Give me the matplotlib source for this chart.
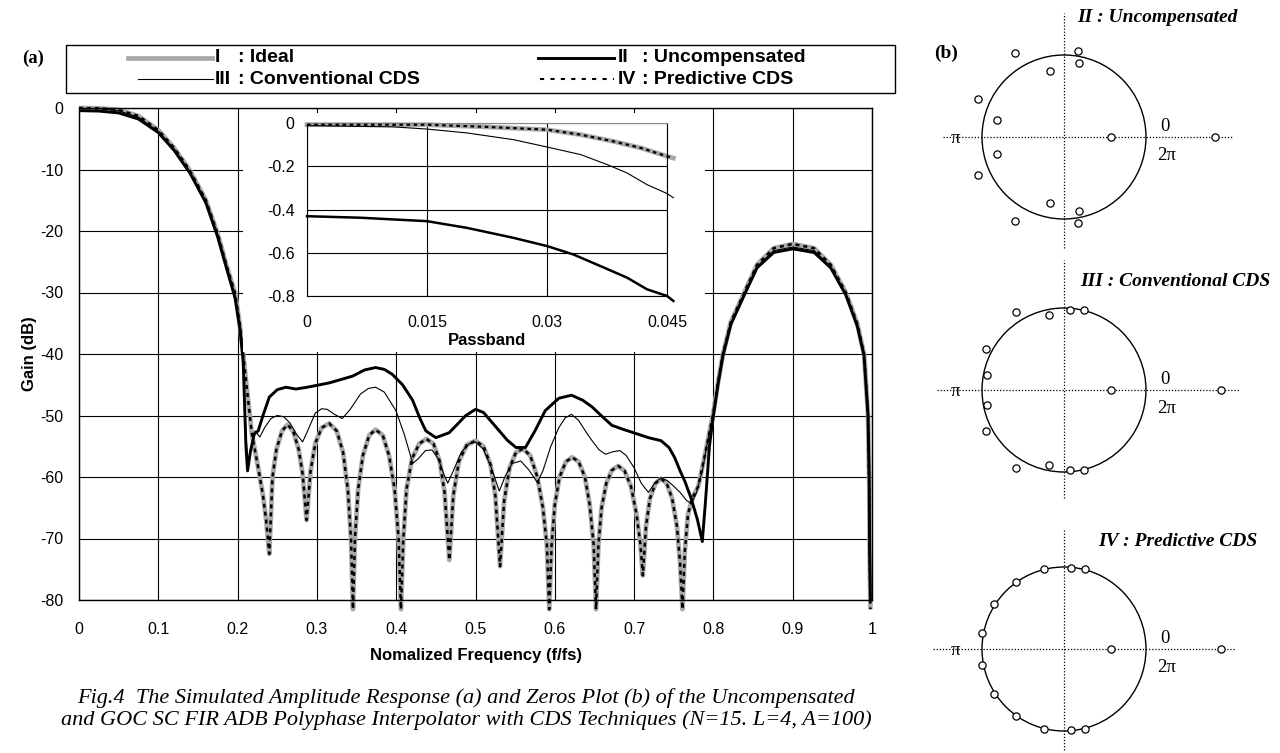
import numpy as np
import matplotlib
matplotlib.use("Agg")
import matplotlib.pyplot as plt
from matplotlib.patches import Rectangle, Circle
from matplotlib.lines import Line2D

plt.rcParams["axes.unicode_minus"] = False

# ---------------- data ----------------
ideal_x = [0, 0.025, 0.05, 0.075, 0.1, 0.12, 0.14, 0.16, 0.175, 0.186, 0.197, 0.203, 0.207, 0.212, 0.218, 0.226, 0.232, 0.236, 0.240,
           0.244, 0.249, 0.256, 0.263, 0.27, 0.277, 0.282, 0.287,
           0.292, 0.298, 0.306, 0.3155, 0.325, 0.333, 0.339, 0.343, 0.3455,
           0.348, 0.352, 0.358, 0.366, 0.374, 0.383, 0.391, 0.398, 0.403, 0.406,
           0.409, 0.413, 0.42, 0.429, 0.438, 0.447, 0.455, 0.461, 0.467,
           0.472, 0.479, 0.489, 0.5, 0.51, 0.519, 0.525, 0.531,
           0.536, 0.543, 0.551, 0.56, 0.569, 0.578, 0.585, 0.59, 0.593,
           0.596, 0.6, 0.606, 0.614, 0.622, 0.63, 0.638, 0.644, 0.649, 0.652,
           0.655, 0.659, 0.665, 0.672, 0.68, 0.688, 0.696, 0.703, 0.708, 0.711,
           0.715, 0.72, 0.727, 0.734, 0.741, 0.748, 0.754, 0.758, 0.761,
           0.764, 0.768, 0.774, 0.781, 0.79, 0.8, 0.806, 0.812, 0.822, 0.839, 0.855, 0.876, 0.9,
           0.927, 0.948, 0.967, 0.9815, 0.99, 0.995, 0.9965, 0.997, 0.998]
ideal_gain = [0, -0.05, -0.3, -1.3, -3.6, -6.5, -10.2, -15.0, -20.5, -25.6, -30.2, -35.4, -40, -46, -53, -58.5, -63, -67, -72.5,
              -60, -55.5, -52.5, -51.5, -52.5, -55.5, -59.5, -67,
              -59, -54.5, -52, -51.3, -52.5, -56, -62, -70, -81.5,
              -70, -62, -56.5, -53.2, -52.3, -53.2, -56.5, -62, -70, -81.5,
              -70, -62, -57, -54.6, -53.8, -54.6, -57.5, -62.5, -73.5,
              -63, -57.5, -54.8, -54.1, -55, -58, -63, -74.5,
              -64, -58.5, -56, -55.4, -56.5, -60, -65, -71, -81.5,
              -71, -64.5, -60, -57.5, -56.8, -57.5, -60, -64.5, -71, -81.5,
              -71, -65, -61, -58.9, -58.2, -59, -61.5, -66, -71, -76,
              -68, -63.5, -61, -60.3, -61, -63.5, -68, -74, -81.5,
              -72, -66, -63.3, -61.5, -56, -49.5, -44.5, -40, -34.8, -30, -25.5, -22.8, -22.1,
              -22.8, -25.5, -30, -35.1, -40, -50, -61, -72, -81.5]

predictive_x = list(ideal_x)
predictive_gain = list(ideal_gain)

uncomp_x = [0, 0.025, 0.05, 0.075, 0.1, 0.12, 0.14, 0.16, 0.175, 0.186, 0.197, 0.203, 0.207, 0.2105, 0.2126, 0.216, 0.221, 0.226,
            0.232, 0.24, 0.25, 0.261, 0.2735, 0.288, 0.3155, 0.345, 0.36, 0.374, 0.385, 0.395, 0.408, 0.4206, 0.43, 0.4374,
            0.45, 0.4668, 0.4878, 0.5, 0.51, 0.526, 0.54, 0.551, 0.563, 0.575, 0.588, 0.605, 0.621, 0.635, 0.647, 0.66,
            0.672, 0.685, 0.697, 0.718, 0.734, 0.744, 0.751, 0.758, 0.764, 0.772, 0.78, 0.786, 0.79, 0.795, 0.8, 0.806,
            0.812, 0.822, 0.839, 0.855, 0.876, 0.9, 0.927, 0.948, 0.967, 0.9815, 0.99, 0.995, 0.9965, 0.997, 0.998]
uncomp_gain = [-0.43, -0.5, -0.8, -1.8, -4.0, -6.9, -10.6, -15.4, -21, -26, -31, -36, -41, -55, -59, -56, -53, -52.5,
               -50, -47, -45.8, -45.4, -45.7, -45.4, -44.7, -43.6, -42.6, -42.2, -42.5, -43.3, -45, -47.5, -50.5, -52.5,
               -53.6, -52.8, -50, -49, -49.5, -51.9, -54, -55.2, -55.2, -52.5, -49.2, -47.2, -46.7, -47.5, -48.6, -50.2,
               -51.6, -52.2, -52.7, -53.6, -54.1, -55.2, -56.8, -59, -60.7, -63.5, -67, -70.5, -64, -55, -50, -44.8,
               -40.3, -35.2, -30.4, -26, -23.5, -22.9, -23.5, -26, -30.4, -35.5, -40.3, -50, -61, -72, -80]

conv_x = [0, 0.025, 0.05, 0.075, 0.1, 0.12, 0.14, 0.16, 0.175, 0.186, 0.197, 0.203, 0.207, 0.2105, 0.213, 0.217, 0.222, 0.228,
          0.234, 0.242, 0.25, 0.258, 0.266, 0.274, 0.282, 0.29, 0.298, 0.306, 0.313, 0.322, 0.332, 0.342, 0.355, 0.365,
          0.374, 0.385, 0.3996, 0.41, 0.4164, 0.421, 0.428, 0.437, 0.445, 0.453, 0.46, 0.465, 0.472, 0.482, 0.492, 0.5,
          0.51, 0.52, 0.53, 0.537, 0.546, 0.557, 0.567, 0.578, 0.585, 0.595, 0.605, 0.613, 0.621, 0.63, 0.64, 0.647,
          0.656, 0.664, 0.673, 0.682, 0.69, 0.7, 0.709, 0.718, 0.726, 0.734, 0.742, 0.75, 0.758, 0.766, 0.772, 0.778,
          0.786, 0.793, 0.8, 0.806, 0.812, 0.822, 0.839, 0.855, 0.876, 0.9, 0.927, 0.948, 0.967, 0.9815, 0.99, 0.995,
          0.9965, 0.997, 0.998]
conv_gain = [-0.01, -0.1, -0.45, -1.5, -3.8, -6.7, -10.4, -15.2, -20.7, -25.8, -30.6, -35.7, -40.5, -53, -57.5, -55, -52.5, -53.5,
             -52, -50.5, -50, -50.2, -51.2, -53, -54.3, -52, -49.6, -48.9, -49.0, -49.8, -50.5, -49, -46.5, -45.6,
             -45.4, -46.2, -49.2, -53, -55.8, -57.8, -57, -55.7, -55.6, -57, -59.5, -61, -59, -56, -54.6, -54.3,
             -55.5, -58.5, -62.3, -60, -57.8, -57.4, -58.8, -60.9, -59, -55, -52, -50.4, -49.8, -50.8, -52.8, -54.1,
             -55.6, -56.3, -55.9, -55.7, -56.5, -58.5, -61, -62.5, -61, -60.1, -60.6, -61.5, -62.5, -63.8, -64.3, -62.8,
             -59, -54, -49.8, -44.7, -40.2, -35, -30.2, -25.8, -23.2, -22.6, -23.2, -25.8, -30.2, -35.3, -40.1, -50,
             -61, -72, -80]

# passband inset
pb_ideal_x = [0, 0.015, 0.0225, 0.03, 0.0342, 0.0383, 0.0417, 0.045, 0.0458]
pb_ideal_gain = [-0.008, -0.008, -0.018, -0.031, -0.054, -0.085, -0.115, -0.154, -0.162]
pb_conv_x = [0, 0.0108, 0.015, 0.02, 0.0258, 0.03, 0.0342, 0.0375, 0.04, 0.0425, 0.045, 0.0458]
pb_conv_gain = [-0.012, -0.018, -0.028, -0.046, -0.077, -0.111, -0.146, -0.192, -0.231, -0.285, -0.326, -0.346]
pb_uncomp_x = [0, 0.00667, 0.015, 0.02, 0.0258, 0.03, 0.0333, 0.0367, 0.04, 0.0425, 0.045, 0.0458]
pb_uncomp_gain = [-0.431, -0.438, -0.454, -0.485, -0.531, -0.569, -0.608, -0.662, -0.715, -0.769, -0.8, -0.823]

# zeros (real, imag) for the three z-plane plots
zeros_uncomp_re = [-0.60, 0.17, 0.18, -0.17, -1.05, -0.82, 0.57, 1.84, -0.82, -1.05, -0.17, 0.18, 0.17, -0.60]
zeros_uncomp_im = [1.02, 1.05, 0.90, 0.81, 0.46, 0.21, 0.0, 0.0, -0.21, -0.46, -0.81, -0.90, -1.05, -1.02]
zeros_conv_re = [-0.58, -0.18, 0.07, 0.24, -0.95, -0.94, 0.57, 1.91, -0.94, -0.95, -0.18, 0.07, 0.24, -0.58]
zeros_conv_im = [0.95, 0.91, 0.98, 0.98, 0.50, 0.18, 0.0, 0.0, -0.18, -0.50, -0.91, -0.98, -0.98, -0.95]
zeros_pred_re = [-0.25, 0.08, 0.26, -0.58, -0.85, -1.0, 0.57, 1.92, -1.0, -0.85, -0.58, -0.25, 0.08, 0.26]
zeros_pred_im = [0.97, 0.99, 0.97, 0.82, 0.55, 0.19, 0.0, 0.0, -0.19, -0.55, -0.82, -0.97, -0.99, -0.97]

x_ticks = [0, 0.1, 0.2, 0.3, 0.4, 0.5, 0.6, 0.7, 0.8, 0.9, 1.0]
x_labels = ["0", "0.1", "0.2", "0.3", "0.4", "0.5", "0.6", "0.7", "0.8", "0.9", "1"]
y_ticks = [0, -10, -20, -30, -40, -50, -60, -70, -80]
pb_x_ticks = [0, 0.015, 0.03, 0.045]
pb_x_labels = ["0", "0.015", "0.03", "0.045"]
pb_y_ticks = [0, -0.2, -0.4, -0.6, -0.8]
pb_y_labels = ["0", "-0.2", "-0.4", "-0.6", "-0.8"]

# ---------------- figure ----------------
W, H = 1280, 753
fig = plt.figure(figsize=(W / 100, H / 100), dpi=100)
fig.patch.set_facecolor("white")
SANS = "Liberation Sans"
SERIF = "Liberation Serif"


def fx(px):
    return px / W


def fy(py):
    return 1 - py / H


GRAY = "#a9a9a9"

# main axes
ax = fig.add_axes([fx(79), fy(600), 793 / W, 492 / H])
ax.plot(ideal_x, ideal_gain, color=GRAY, lw=3.4, clip_on=False, zorder=2, solid_capstyle="butt")
ax.plot(predictive_x, predictive_gain, color="black", lw=1.8, ls=(0, (1.6, 1.6)), clip_on=False, zorder=3)
ax.plot(conv_x, conv_gain, color="black", lw=0.8, zorder=4)
ax.plot(uncomp_x, uncomp_gain, color="black", lw=2.1, zorder=5)
ax.set_xlim(0, 1)
ax.set_ylim(-80, 0)
ax.set_xticks(x_ticks)
ax.set_xticklabels(x_labels)
ax.set_yticks(y_ticks)
ax.grid(True, color="black", lw=0.8)
ax.set_axisbelow(True)
ax.tick_params(axis="both", length=0, labelsize=11.5)
ax.tick_params(axis="x", pad=16)
ax.tick_params(axis="y", pad=11.5)
for lab in ax.get_xticklabels() + ax.get_yticklabels():
    lab.set_fontfamily(SANS)
for s in ax.spines.values():
    s.set_linewidth(1.0)
ax.set_xlabel("Nomalized Frequency (f/fs)", fontfamily=SANS, fontweight="bold", fontsize=12, labelpad=8)
ax.set_ylabel("Gain (dB)", fontfamily=SANS, fontweight="bold", fontsize=12, labelpad=2)

# white background for inset
bg = fig.add_axes([fx(243), fy(352), 462 / W, 239 / H])
bg.set_xticks([])
bg.set_yticks([])
for s in bg.spines.values():
    s.set_visible(False)
bg.set_facecolor("white")

ins = fig.add_axes([fx(307), fy(296), 360 / W, 173 / H])
ins.plot(pb_ideal_x, pb_ideal_gain, color=GRAY, lw=3.4, clip_on=False, zorder=2)
ins.plot(pb_ideal_x, pb_ideal_gain, color="black", lw=1.6, ls=(0, (1.6, 1.6)), clip_on=False, zorder=3)
ins.plot(pb_conv_x, pb_conv_gain, color="black", lw=0.8, clip_on=False, zorder=4)
ins.plot(pb_uncomp_x, pb_uncomp_gain, color="black", lw=1.8, clip_on=False, zorder=5)
ins.set_xlim(0, 0.045)
ins.set_ylim(-0.8, 0)
ins.set_xticks(pb_x_ticks)
ins.set_xticklabels(pb_x_labels)
ins.set_yticks(pb_y_ticks)
ins.set_yticklabels(pb_y_labels)
ins.grid(True, color="black", lw=0.8)
ins.set_axisbelow(True)
ins.tick_params(axis="both", length=0, labelsize=11.5)
ins.tick_params(axis="x", pad=14)
ins.tick_params(axis="y", pad=9)
for lab in ins.get_xticklabels() + ins.get_yticklabels():
    lab.set_fontfamily(SANS)
ins.spines["top"].set_color("#888888")
ins.set_xlabel("Passband", fontfamily=SANS, fontweight="bold", fontsize=12, labelpad=2)

# legend (drawn manually)
fig.add_artist(Rectangle((fx(66), fy(93)), (895 - 66) / W, (93 - 45) / H, transform=fig.transFigure,
                         fill=False, lw=1.0, color="black"))
r1, r2 = 58, 79
fig.add_artist(Line2D([fx(128), fx(212)], [fy(r1), fy(r1)], transform=fig.transFigure, color=GRAY, lw=3.4))
fig.add_artist(Line2D([fx(138), fx(213)], [fy(r2), fy(r2)], transform=fig.transFigure, color="black", lw=0.8))
fig.add_artist(Line2D([fx(538), fx(614)], [fy(r1), fy(r1)], transform=fig.transFigure, color="black", lw=2.1))
fig.add_artist(Line2D([fx(540), fx(614)], [fy(r2), fy(r2)], transform=fig.transFigure, color="black", lw=1.5,
                      ls=(0, (2, 3))))
leg_kw = dict(fontfamily=SANS, fontweight="bold", fontsize=14, va="center", ha="left")
fig.text(fx(215), fy(r1), "I", **leg_kw)
fig.text(fx(238), fy(r1), ": Ideal", **leg_kw)
fig.text(fx(215), fy(r2), "III", **leg_kw)
fig.text(fx(238), fy(r2), ": Conventional CDS", **leg_kw)
fig.text(fx(618), fy(r1), "II", **leg_kw)
fig.text(fx(642), fy(r1), ": Uncompensated", **leg_kw)
fig.text(fx(618), fy(r2), "IV", **leg_kw)
fig.text(fx(642), fy(r2), ": Predictive CDS", **leg_kw)

fig.text(fx(22), fy(58), "(a)", fontfamily=SERIF, fontweight="bold", fontsize=13.5, va="center", ha="left")
fig.text(fx(946), fy(53), "(b)", fontfamily=SERIF, fontweight="bold", fontsize=14, va="center", ha="center")

# caption
cap_kw = dict(fontfamily=SERIF, fontstyle="italic", fontsize=16.0, ha="center", va="center")
fig.text(fx(466), fy(698), "Fig.4  The Simulated Amplitude Response (a) and Zeros Plot (b) of the Uncompensated", **cap_kw)
fig.text(fx(466), fy(720), "and GOC SC FIR ADB Polyphase Interpolator with CDS Techniques (N=15. L=4, A=100)", **cap_kw)

# zero plots
R = 82.0
panels = [
    (137, zeros_uncomp_re, zeros_uncomp_im, "II : Uncompensated", 1157, 18, (-1.48, 2.06), (-1.35, 1.51)),
    (390, zeros_conv_re, zeros_conv_im, "III : Conventional CDS", 1175, 282, (-1.55, 2.15), (-1.32, 1.59)),
    (649, zeros_pred_re, zeros_pred_im, "IV : Predictive CDS", 1178, 541, (-1.6, 2.1), (-1.23, 1.45)),
]
CX = 1064
for cy, zre, zim, title, tx, ty, hx, vy in panels:
    x0, x1, y0, y1 = -1.7, 2.4, -1.65, 1.65
    zax = fig.add_axes([fx(CX + x0 * R), fy(cy - y0 * R), (x1 - x0) * R / W, (y1 - y0) * R / H])
    zax.set_xlim(x0, x1)
    zax.set_ylim(y0, y1)
    zax.axis("off")
    zax.plot(hx, [0, 0], color="black", lw=0.9, ls=(0, (1, 1.5)))
    zax.plot([0, 0], vy, color="black", lw=0.9, ls=(0, (1, 1.5)))
    zax.add_patch(Circle((0, 0), 1.0, fill=False, lw=1.0, color="black"))
    zax.plot(zre, zim, ls="none", marker="o", ms=5.2, mfc="white", mec="black", mew=0.9)
    zax.text(-1.33, -0.02, "π", fontfamily=SERIF, fontsize=13.5, ha="center", va="center")
    zax.text(1.23, 0.13, "0", fontfamily=SERIF, fontsize=13.5, ha="center", va="center")
    zax.text(1.25, -0.22, "2π", fontfamily=SERIF, fontsize=13.5, ha="center", va="center")
    fig.text(fx(tx), fy(ty), title, fontfamily=SERIF, fontstyle="italic", fontweight="bold",
             fontsize=14, ha="center", va="center")

fig.savefig("out.png", dpi=100, facecolor="white")
